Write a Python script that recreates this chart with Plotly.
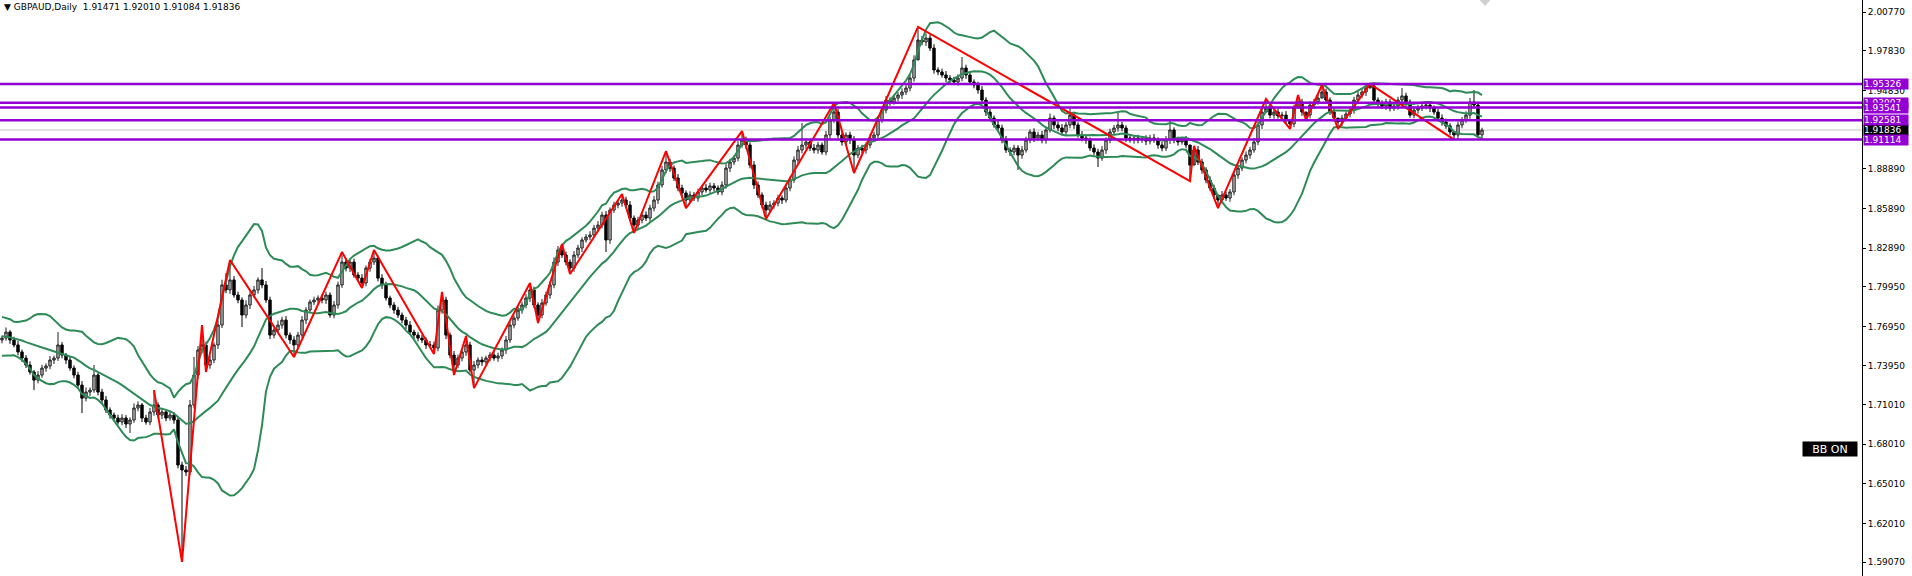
import plotly.graph_objects as go
import pandas as pd

# ---------------- data ----------------
symbol_title = "GBPAUD,Daily"
last_bar_ohlc = [1.91471, 1.92010, 1.91084, 1.91836]

# closes of the 19 sessions before the first visible bar (off-screen, used only for the bands)
warmup_closes = [1.7720, 1.7682, 1.7735, 1.7644, 1.7606, 1.7659, 1.7569, 1.7531, 1.7493, 1.7554,
                 1.7584, 1.7644, 1.7705, 1.7735, 1.7682, 1.7606, 1.7554, 1.7493, 1.7592]

closes = [
    1.7606, 1.7652, 1.7592, 1.7554, 1.7501, 1.7455, 1.7402, 1.7349, 1.7288, 1.7326,
    1.7379, 1.7395, 1.7440, 1.7455, 1.7554, 1.7478, 1.7440, 1.7379, 1.7326, 1.7250,
    1.7151, 1.7197, 1.7212, 1.7326, 1.7197, 1.7137, 1.7061, 1.7023, 1.7000, 1.6970,
    1.7000, 1.6955, 1.6985, 1.7076, 1.7099, 1.7000, 1.6970, 1.7046, 1.7099, 1.7023,
    1.7046, 1.7000, 1.7023, 1.6985, 1.6644, 1.6606, 1.6591, 1.7099, 1.7326, 1.7516,
    1.7554, 1.7402, 1.7440, 1.7554, 1.7705, 1.8009, 1.7971, 1.8047, 1.7933, 1.7895,
    1.7781, 1.7857, 1.7933, 1.7971, 1.8047, 1.8009, 1.7895, 1.7629, 1.7667, 1.7705,
    1.7743, 1.7629, 1.7592, 1.7554, 1.7629, 1.7743, 1.7819, 1.7880, 1.7895, 1.7910,
    1.7895, 1.7933, 1.7781, 1.7857, 1.8009, 1.8183, 1.8137, 1.8183, 1.8084, 1.8061,
    1.8024, 1.8137, 1.8183, 1.8213, 1.8061, 1.8009, 1.7910, 1.7857, 1.7819, 1.7781,
    1.7743, 1.7705, 1.7652, 1.7629, 1.7606, 1.7592, 1.7554, 1.7554, 1.7531, 1.7819,
    1.7895, 1.7629, 1.7478, 1.7402, 1.7455, 1.7501, 1.7554, 1.7364, 1.7402, 1.7440,
    1.7425, 1.7455, 1.7478, 1.7455, 1.7471, 1.7516, 1.7592, 1.7705, 1.7758, 1.7819,
    1.7857, 1.7910, 1.7971, 1.7857, 1.7781, 1.7872, 1.7933, 1.8009, 1.8183, 1.8274,
    1.8236, 1.8183, 1.8137, 1.8236, 1.8289, 1.8350, 1.8373, 1.8388, 1.8440, 1.8463,
    1.8539, 1.8350, 1.8577, 1.8615, 1.8630, 1.8653, 1.8615, 1.8516, 1.8463, 1.8501,
    1.8539, 1.8516, 1.8592, 1.8653, 1.8767, 1.8881, 1.8941, 1.8895, 1.8820, 1.8744,
    1.8706, 1.8653, 1.8691, 1.8668, 1.8714, 1.8744, 1.8729, 1.8760, 1.8744, 1.8714,
    1.8767, 1.8895, 1.8941, 1.8971, 1.9070, 1.9108, 1.9070, 1.8918, 1.8767, 1.8691,
    1.8615, 1.8577, 1.8615, 1.8630, 1.8668, 1.8653, 1.8744, 1.8805, 1.8956, 1.9032,
    1.9070, 1.9093, 1.9047, 1.9032, 1.9070, 1.9017, 1.9146, 1.9260, 1.9320, 1.9146,
    1.9093, 1.9146, 1.9108, 1.8994, 1.9047, 1.9032, 1.9070, 1.9123, 1.9146, 1.9260,
    1.9335, 1.9411, 1.9396, 1.9426, 1.9449, 1.9472, 1.9502, 1.9578, 1.9715, 1.9866,
    1.9851, 1.9881, 1.9805, 1.9639, 1.9624, 1.9601, 1.9578, 1.9563, 1.9548, 1.9578,
    1.9654, 1.9601, 1.9548, 1.9525, 1.9487, 1.9411, 1.9320, 1.9274, 1.9222, 1.9199,
    1.9108, 1.9032, 1.9017, 1.9047, 1.8994, 1.9032, 1.9108, 1.9169, 1.9123, 1.9146,
    1.9108, 1.9184, 1.9274, 1.9222, 1.9199, 1.9169, 1.9222, 1.9297, 1.9222, 1.9146,
    1.9123, 1.9108, 1.9047, 1.9017, 1.8971, 1.9032, 1.9108, 1.9169, 1.9199, 1.9222,
    1.9199, 1.9123, 1.9108, 1.9123, 1.9108, 1.9116, 1.9100, 1.9123, 1.9108, 1.9070,
    1.9047, 1.9108, 1.9184, 1.9108, 1.9093, 1.9108, 1.9070, 1.8918, 1.9032, 1.8941,
    1.8881, 1.8805, 1.8744, 1.8691, 1.8653, 1.8691, 1.8668, 1.8714, 1.8843, 1.8895,
    1.8956, 1.8994, 1.9032, 1.9093, 1.9222, 1.9320, 1.9350, 1.9297, 1.9320, 1.9290,
    1.9297, 1.9260, 1.9230, 1.9350, 1.9396, 1.9320, 1.9297, 1.9373, 1.9396, 1.9426,
    1.9472, 1.9411, 1.9320, 1.9274, 1.9245, 1.9274, 1.9305, 1.9335, 1.9411, 1.9449,
    1.9472, 1.9502, 1.9518, 1.9411, 1.9381, 1.9366, 1.9396, 1.9350, 1.9366, 1.9411,
    1.9442, 1.9396, 1.9297, 1.9335, 1.9350, 1.9366, 1.9373, 1.9350, 1.9320, 1.9274,
    1.9245, 1.9215, 1.9169, 1.9146, 1.9222, 1.9260, 1.9297, 1.9396, 1.9373, 1.91471,
    1.91836,
]

# wick lengths in pips (0.0001) above max(open, close) and below min(open, close)
up_wick_pips = [
    20, 35, 15, 25, 30, 18, 22, 28, 15, 30,
    25, 20, 30, 18, 98, 22, 15, 28, 20, 25,
    30, 35, 20, 76, 15, 25, 30, 20, 18, 25,
    30, 22, 20, 35, 28, 15, 25, 30, 0, 20,
    25, 18, 30, 22, 20, 25, 30, 38, 137, 30,
    0, 25, 30, 20, 35, 40, 90, 0, 30, 25,
    20, 35, 25, 30, 20, 90, 30, 25, 20, 35,
    25, 30, 20, 28, 25, 30, 22, 18, 25, 20,
    30, 25, 20, 30, 25, 0, 30, 20, 25, 22,
    30, 20, 25, 0, 20, 30, 25, 18, 22, 25,
    20, 25, 30, 18, 22, 25, 20, 30, 25, 35,
    0, 25, 20, 30, 25, 20, 0, 25, 30, 20,
    25, 18, 22, 30, 25, 20, 30, 25, 20, 28,
    25, 30, 0, 25, 20, 30, 25, 28, 35, 30,
    0, 25, 20, 30, 25, 20, 22, 28, 25, 30,
    25, 30, 20, 25, 22, 0, 25, 30, 20, 25,
    20, 28, 25, 30, 25, 30, 0, 25, 20, 30,
    25, 20, 28, 22, 25, 20, 30, 25, 22, 20,
    28, 30, 25, 20, 30, 0, 25, 20, 30, 25,
    20, 25, 30, 22, 25, 20, 30, 25, 28, 30,
    167, 25, 20, 30, 25, 20, 30, 25, 0, 25,
    30, 20, 25, 30, 22, 25, 20, 28, 25, 30,
    25, 30, 20, 25, 22, 28, 25, 30, 35, 0,
    30, 35, 25, 30, 20, 25, 30, 22, 25, 28,
    83, 25, 30, 20, 25, 30, 22, 25, 20, 30,
    25, 30, 20, 25, 22, 30, 25, 20, 28, 25,
    30, 25, 35, 20, 25, 30, 22, 53, 25, 20,
    30, 25, 20, 28, 25, 30, 20, 25, 22, 91,
    25, 20, 30, 22, 25, 20, 28, 25, 30, 20,
    25, 30, 76, 20, 25, 22, 30, 25, 0, 30,
    25, 20, 28, 25, 20, 30, 25, 22, 30, 25,
    20, 28, 25, 30, 25, 30, 0, 25, 20, 28,
    25, 30, 20, 25, 0, 25, 20, 30, 25, 28,
    0, 25, 20, 30, 22, 25, 20, 28, 25, 30,
    25, 30, 0, 25, 20, 28, 25, 22, 30, 25,
    60, 25, 20, 28, 25, 22, 30, 25, 20, 25,
    28, 25, 20, 30, 25, 22, 28, 30, 91, 25,
    17,
]
dn_wick_pips = [
    25, 20, 30, 18, 25, 30, 22, 20, 76, 25,
    20, 28, 25, 30, 22, 25, 30, 20, 25, 28,
    113, 25, 30, 20, 25, 30, 22, 28, 25, 20,
    25, 30, 68, 22, 25, 30, 20, 25, 28, 25,
    30, 25, 20, 28, 25, 0, 30, 23, 25, 30,
    25, 0, 28, 25, 30, 22, 25, 30, 20, 25,
    91, 25, 30, 20, 28, 25, 22, 30, 25, 20,
    28, 25, 30, 0, 25, 20, 30, 25, 22, 28,
    25, 30, 20, 25, 28, 22, 25, 30, 20, 25,
    0, 25, 28, 22, 25, 30, 20, 25, 28, 22,
    25, 30, 20, 28, 25, 22, 30, 25, 0, 25,
    28, 30, 25, 0, 22, 25, 30, 20, 0, 25,
    30, 22, 25, 20, 28, 25, 30, 22, 25, 20,
    28, 25, 30, 22, 0, 25, 20, 28, 25, 30,
    22, 25, 0, 28, 25, 30, 20, 25, 22, 28,
    25, 91, 30, 22, 25, 28, 20, 25, 0, 30,
    25, 22, 28, 25, 30, 20, 25, 28, 22, 25,
    30, 0, 25, 22, 28, 25, 20, 30, 25, 22,
    25, 28, 30, 22, 25, 20, 28, 25, 30, 22,
    25, 0, 22, 28, 25, 30, 20, 25, 22, 28,
    25, 30, 22, 25, 28, 20, 25, 30, 22, 25,
    28, 25, 30, 0, 25, 22, 28, 25, 20, 30,
    22, 25, 28, 20, 25, 30, 22, 25, 28, 25,
    25, 30, 22, 28, 25, 20, 30, 25, 22, 28,
    25, 30, 20, 25, 28, 22, 30, 25, 20, 28,
    25, 22, 30, 25, 113, 28, 20, 25, 30, 22,
    25, 28, 20, 30, 25, 22, 28, 25, 30, 20,
    25, 28, 22, 25, 68, 20, 30, 25, 22, 28,
    25, 30, 20, 28, 25, 22, 30, 25, 20, 28,
    25, 22, 30, 25, 28, 20, 25, 0, 30, 22,
    28, 25, 20, 30, 0, 25, 22, 28, 25, 30,
    22, 25, 28, 20, 25, 30, 22, 25, 28, 20,
    25, 30, 0, 25, 22, 28, 0, 25, 30, 20,
    25, 28, 22, 25, 0, 30, 20, 25, 28, 22,
    25, 30, 22, 28, 25, 20, 30, 25, 22, 28,
    25, 30, 20, 25, 28, 22, 25, 30, 20, 25,
    28, 22, 25, 0, 30, 25, 22, 28, 25, 20,
    39,
]

# ZigZag pivots (bar index, price, high/low)
zz_index = [38, 45, 50, 51, 57, 73, 85, 90, 93, 108, 110, 113, 116, 118, 132, 134, 140, 142,
            155, 158, 166, 171, 185, 191, 208, 213, 229, 297, 298, 304, 316, 322, 324, 326,
            330, 334, 342, 363]
zz_price = [1.7212, 1.5909, 1.7705, 1.7349, 1.8198, 1.7463, 1.8259, 1.7986, 1.8274, 1.7486,
            1.7956, 1.7326, 1.7622, 1.7227, 1.8024, 1.7720, 1.8320, 1.8092, 1.8699, 1.8403,
            1.9024, 1.8592, 1.9176, 1.8509, 1.9388, 1.8858, 1.9965, 1.8797, 1.9063, 1.8592,
            1.9419, 1.9192, 1.9449, 1.9260, 1.9525, 1.9192, 1.9533, 1.9111]
zz_kind = ["H", "L"] * 13 + ["L", "H"] * 6

level_prices = [1.91114, 1.93907, 1.93541, 1.92581, 1.95326]
tick_prices = [2.00770, 1.97830, 1.94830, 1.88890, 1.85890, 1.82890, 1.79950,
               1.76950, 1.73950, 1.71010, 1.68010, 1.65010, 1.62010, 1.59070]

# ---------------- build OHLC ----------------
n = len(closes)
assert len(up_wick_pips) == n and len(dn_wick_pips) == n
opens = [warmup_closes[-1]] + closes[:-1]
highs = [max(o, c) + w * 1e-4 for o, c, w in zip(opens, closes, up_wick_pips)]
lows = [min(o, c) - w * 1e-4 for o, c, w in zip(opens, closes, dn_wick_pips)]
for i, p, k in zip(zz_index, zz_price, zz_kind):
    if k == "H":
        highs[i] = p
    else:
        lows[i] = p
opens[-1], highs[-1], lows[-1], closes[-1] = last_bar_ohlc
xs = list(range(n))

s = pd.Series(warmup_closes + closes)
mid = s.rolling(20).mean()
sd = s.rolling(20).std(ddof=0)
k0 = len(warmup_closes)
bb_mid = mid.iloc[k0:].tolist()
bb_up = (mid + 2 * sd).iloc[k0:].tolist()
bb_lo = (mid - 2 * sd).iloc[k0:].tolist()

FONT = "DejaVu Sans"
PURPLE = "#9400D3"
GREEN = "#2E8B57"

fig = go.Figure()
fig.add_trace(go.Candlestick(
    x=xs, open=opens, high=highs, low=lows, close=closes,
    increasing=dict(line=dict(color="#202020", width=1), fillcolor="#b8b8b8"),
    decreasing=dict(line=dict(color="#000000", width=1), fillcolor="#000000"),
    whiskerwidth=0, hoverinfo="skip", showlegend=False))
for band in (bb_up, bb_mid, bb_lo):
    fig.add_trace(go.Scatter(x=xs, y=band, mode="lines", line=dict(color=GREEN, width=2),
                             hoverinfo="skip", showlegend=False))
fig.add_trace(go.Scatter(x=zz_index, y=zz_price, mode="lines", line=dict(color="#FF0000", width=2),
                         hoverinfo="skip", showlegend=False))

shapes = [dict(type="line", xref="paper", x0=0, x1=1, yref="y", y0=last_bar_ohlc[3], y1=last_bar_ohlc[3],
               line=dict(color="#C8C8C8", width=1), layer="below")]
for p in level_prices:
    shapes.append(dict(type="line", xref="paper", x0=0, x1=1, yref="y", y0=p, y1=p,
                       line=dict(color=PURPLE, width=2.5), layer="above"))
# small grey marker partly visible at the top edge
shapes.append(dict(type="path", xref="x", yref="paper",
                   path=f"M 369.4 1 L 372.1 1 L 370.75 {1 - 6 / 576} Z",
                   fillcolor="#D0D0D0", line=dict(width=0)))

annotations = []
annotations.append(dict(xref="paper", x=1, xanchor="left", xshift=1, yref="y", y=last_bar_ohlc[3],
                        yanchor="middle", text=f"{last_bar_ohlc[3]:.5f}", showarrow=False,
                        bgcolor="#000000", font=dict(family=FONT, size=9, color="white"),
                        width=44, height=10, borderpad=0, align="left"))
for p in level_prices:
    annotations.append(dict(xref="paper", x=1, xanchor="left", xshift=1, yref="y", y=p,
                            yanchor="middle", text=f"{p:.5f}", showarrow=False,
                            bgcolor=PURPLE, font=dict(family=FONT, size=9, color="white"),
                            width=44, height=10, borderpad=0, align="left"))
annotations.append(dict(xref="paper", x=1802 / 1862, xanchor="left", yref="paper", y=1 - 449 / 576,
                        yanchor="middle", text="BB ON", showarrow=False, bgcolor="#000000",
                        font=dict(family=FONT, size=11, color="white"), width=54, height=14,
                        borderpad=0))
title_line = f"▼ {symbol_title}  " + " ".join(f"{v:.5f}" for v in last_bar_ohlc)
annotations.append(dict(xref="paper", x=0, xanchor="left", xshift=2, yref="paper", y=1,
                        yanchor="top", yshift=0, text=title_line, showarrow=False,
                        font=dict(family=FONT, size=9, color="#000000")))

fig.update_layout(
    width=1912, height=576,
    margin=dict(l=0, r=50, t=0, b=0),
    paper_bgcolor="white", plot_bgcolor="white",
    showlegend=False, boxgap=0.15,
    shapes=shapes, annotations=annotations,
    xaxis=dict(range=[-0.5, 465], visible=False, rangeslider=dict(visible=False), fixedrange=True),
    yaxis=dict(side="right", range=[1.58025, 2.01695], showgrid=False, zeroline=False,
               tickmode="array", tickvals=tick_prices, ticktext=[f"{v:.5f}" for v in tick_prices],
               ticks="outside", ticklen=3, tickcolor="#000000", showline=True, linecolor="#000000",
               linewidth=1, tickfont=dict(family=FONT, size=9, color="#000000")),
)

fig.write_html("out.html", config={"displayModeBar": False},
               post_script="document.body.style.margin='0';")
